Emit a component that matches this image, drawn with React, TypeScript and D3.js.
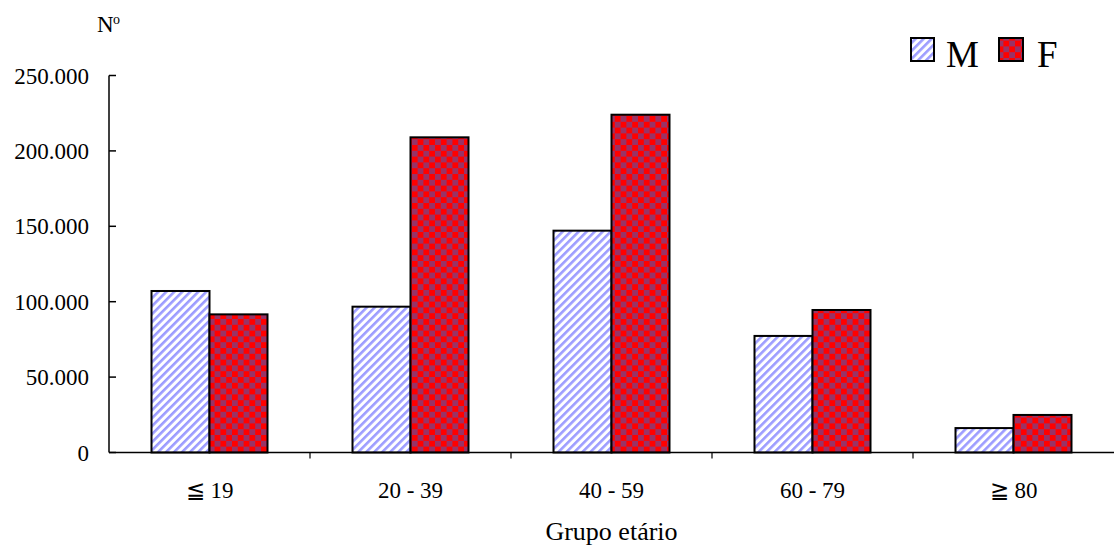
import React from "react";
import * as d3 from "d3";

const categories = ["≦ 19", "20 - 39", "40 - 59", "60 - 79", "≧ 80"];
const seriesNames = ["M", "F"];
const valuesM = [107100, 96700, 147100, 77300, 16200];
const valuesF = [91600, 209000, 224000, 94500, 24900];
const yTicks = [0, 50000, 100000, 150000, 200000, 250000];

const W = 1115;
const H = 549;
const FONT = "'Liberation Serif', 'Times New Roman', serif";

const fmt = (v: number) => (v === 0 ? "0" : d3.format(",")(v).replace(/,/g, "."));

export default function App() {
  const x = d3.scaleBand<string>().domain(categories).range([109, 1114]).padding(0);
  const bw = x.bandwidth();
  const inner = d3
    .scaleBand<string>()
    .domain(seriesNames)
    .range([(bw - 116) / 2, (bw + 116) / 2])
    .padding(0);
  const y = d3.scaleLinear().domain([0, 250000]).range([452.5, 75.5]);

  const series = [
    { name: "M", values: valuesM, fill: "url(#stripes)" },
    { name: "F", values: valuesF, fill: "url(#checker)" },
  ];

  return (
    <svg
      width={W}
      height={H}
      style={{ position: "absolute", left: 0, top: 0, background: "#fff" }}
      fontFamily={FONT}
    >
      <defs>
        <pattern
          id="stripes"
          patternUnits="userSpaceOnUse"
          width={5.66}
          height={10}
          patternTransform="rotate(45)"
        >
          <rect width={5.66} height={10} fill="#fff" />
          <rect x={0} width={2.6} height={10} fill="#9c9cff" />
        </pattern>
        <pattern id="checker" patternUnits="userSpaceOnUse" width={11.6} height={11.6}>
          <rect width={11.6} height={11.6} fill="#993366" />
          <rect x={0} y={0} width={5.8} height={5.8} fill="#ff0000" />
          <rect x={5.8} y={5.8} width={5.8} height={5.8} fill="#ff0000" />
        </pattern>
      </defs>

      {/* bars */}
      {series.map((s) =>
        categories.map((c, i) => {
          const x0 = (x(c) as number) + (inner(s.name) as number);
          const yTop = y(s.values[i]);
          return (
            <rect
              key={s.name + c}
              x={x0}
              y={yTop}
              width={inner.bandwidth()}
              height={y(0) - yTop}
              fill={s.fill}
              stroke="#000"
              strokeWidth={2}
            />
          );
        })
      )}

      {/* y axis */}
      <line x1={109} x2={109} y1={y(250000)} y2={y(0)} stroke="#000" strokeWidth={1.5} />
      {yTicks.map((t) => (
        <g key={t}>
          <line x1={109} x2={116} y1={y(t)} y2={y(t)} stroke="#000" strokeWidth={1.5} />
          <text x={89} y={y(t)} dy="0.35em" textAnchor="end" fontSize={23} fill="#000">
            {fmt(t)}
          </text>
        </g>
      ))}

      {/* x axis */}
      <line x1={109} x2={1114} y1={y(0)} y2={y(0)} stroke="#000" strokeWidth={1.5} />
      {categories.slice(1).map((c) => (
        <line
          key={c}
          x1={x(c) as number}
          x2={x(c) as number}
          y1={y(0)}
          y2={y(0) + 6}
          stroke="#000"
          strokeWidth={1.2}
        />
      ))}
      {categories.map((c) => (
        <text
          key={c}
          x={(x(c) as number) + bw / 2}
          y={498}
          textAnchor="middle"
          fontSize={23}
          fill="#000"
        >
          {c}
        </text>
      ))}
      <text x={(109 + 1114) / 2} y={540} textAnchor="middle" fontSize={26} fill="#000">
        Grupo etário
      </text>

      {/* y unit */}
      <text x={97} y={32} fontSize={23} fill="#000">
        N
      </text>
      <text x={113} y={24} fontSize={14} fill="#000">
        o
      </text>

      {/* legend */}
      <rect x={911} y={38} width={23} height={23} fill="url(#stripes)" stroke="#000" strokeWidth={2} />
      <text x={946} y={67} fontSize={37} fill="#000">
        M
      </text>
      <rect x={999} y={38} width={24} height={23} fill="url(#checker)" stroke="#000" strokeWidth={2} />
      <text x={1037} y={67} fontSize={37} fill="#000">
        F
      </text>
    </svg>
  );
}
